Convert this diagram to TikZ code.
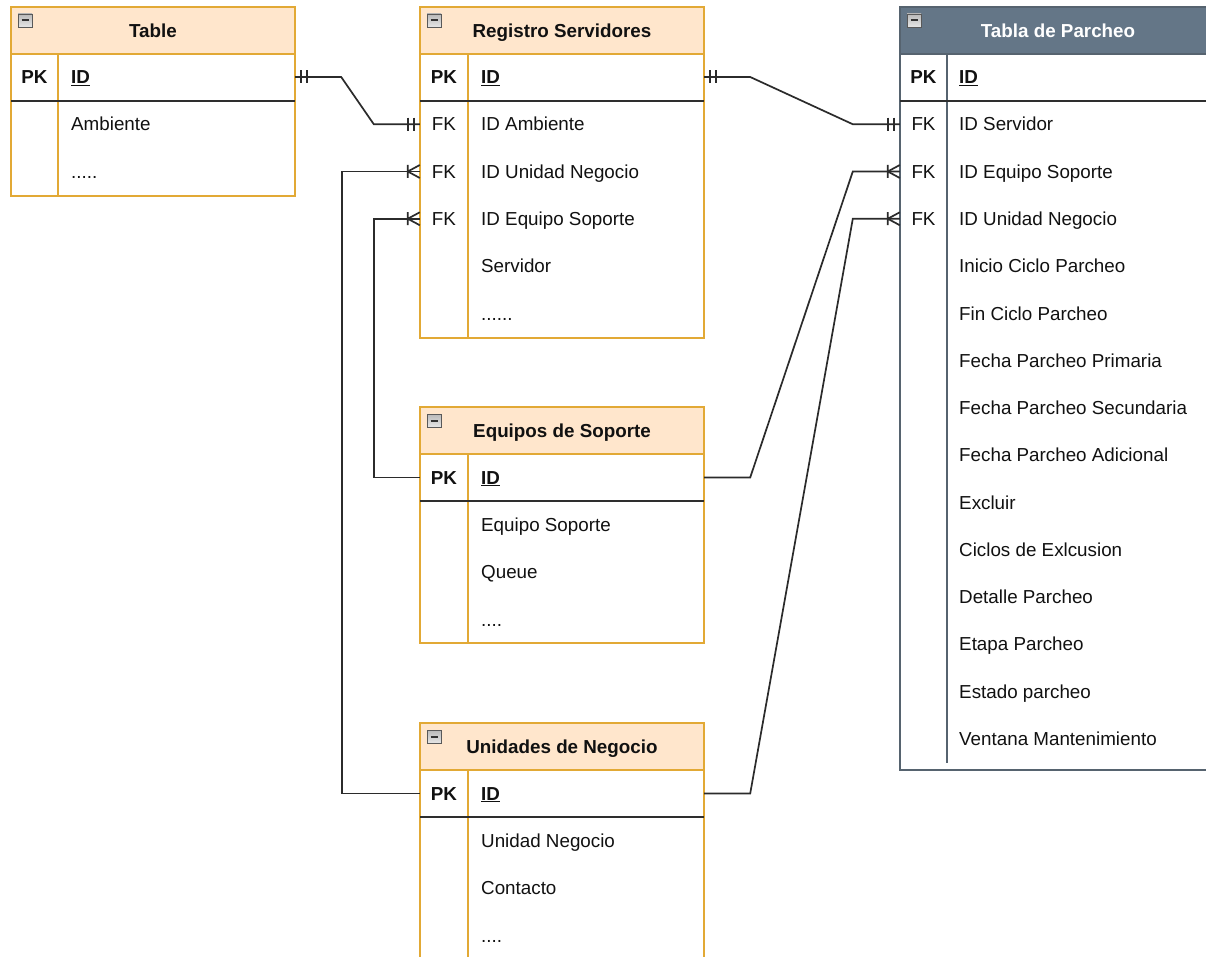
\documentclass[tikz,border=0pt]{standalone}
\usepackage{fontspec}
\setmainfont{Liberation Sans}
\usetikzlibrary{calc}

\definecolor{erline}{HTML}{E2A935}
\definecolor{erhead}{HTML}{FFE6CC}
\definecolor{slatehead}{HTML}{647687}
\definecolor{slateline}{HTML}{56636F}
\definecolor{relink}{HTML}{2B2B2B}
\definecolor{sepink}{HTML}{2E2E2E}
\definecolor{txtink}{HTML}{111111}

\tikzset{
  every node/.style={font=\fontsize{18.8}{22}\selectfont, inner sep=0pt,
                     text height=13.5pt, text depth=0pt, text=txtink},
  frame/.style={draw=erline, line width=1.6pt},
  slateframe/.style={draw=slateline, line width=1.6pt},
  sepline/.style={draw=sepink, line width=1.8pt},
  title/.style={font=\fontsize{18.8}{22}\selectfont\bfseries},
  keytxt/.style={font=\fontsize{18.8}{22}\selectfont\bfseries},
  fldtxt/.style={anchor=west},
  rowref/.style={minimum width=284pt, text height=0pt},
  rowrefwide/.style={minimum width=318pt, text height=0pt},
  rel/.style={draw=relink, line width=1.7pt},
  pics/fold/.style={code={
    \draw[draw=gray!70!black, top color=gray!55, bottom color=gray!20, line width=0.8pt] (0,0) rectangle (14,13);
    \draw[line width=2pt, draw=black!80] (3.5,6.5) -- (10.5,6.5);}},
  pics/mone/.style={code={
    \draw[rel] (-6,-6.5) -- (-6,6.5) (-12,-6.5) -- (-12,6.5);}},
  pics/crow/.style={code={
    \draw[rel] (-12,-6.5) -- (-12,6.5) (-12,0) -- (0,-6.5) (-12,0) -- (0,6.5);}},
}

\begin{document}
\begin{tikzpicture}[x=1pt,y=-1pt]
\clip (0,0) rectangle (1206,957);
\fill[white] (0,0) rectangle (1206,957);

% ---------- Table ----------
\draw[frame, fill=erhead] (11,7) rectangle (295,54);
\draw[frame] (11,54) rectangle (295,196);
\draw[frame] (58,54) -- (58,196);
\draw[sepline] (11,101) -- (295,101);
\pic at (18,14) {fold};
\node[title] (t-title) at (153,30.5) {Table};
\node[rowref] (t-id) at (153,77) {};
\node[keytxt] (t-pk) at (34.5,77) {PK};
\node[fldtxt, font=\fontsize{18.8}{22}\selectfont\bfseries] (t-id-t) at (71,77) {\underline{ID}};
\node[fldtxt] (t-amb-t) at (71,124.25) {Ambiente};
\node[fldtxt] (t-more-t) at (71,171.5) {.....};

% ---------- Registro Servidores ----------
\draw[frame, fill=erhead] (420,7) rectangle (704,54);
\draw[frame] (420,54) rectangle (704,338);
\draw[frame] (468,54) -- (468,338);
\draw[sepline] (420,101) -- (704,101);
\pic at (427,14) {fold};
\node[title] (rs-title) at (562,30.5) {Registro Servidores};
\node[rowref] (rs-id) at (562,77) {};
\node[rowref] (rs-amb) at (562,124.25) {};
\node[rowref] (rs-un) at (562,171.5) {};
\node[rowref] (rs-eq) at (562,218.75) {};
\node[keytxt] (rs-pk) at (444,77) {PK};
\node (rs-fk1) at (444,124.25) {FK};
\node (rs-fk2) at (444,171.5) {FK};
\node (rs-fk3) at (444,218.75) {FK};
\node[fldtxt, font=\fontsize{18.8}{22}\selectfont\bfseries] (rs-id-t) at (481,77) {\underline{ID}};
\node[fldtxt] (rs-amb-t) at (481,124.25) {ID Ambiente};
\node[fldtxt] (rs-un-t) at (481,171.5) {ID Unidad Negocio};
\node[fldtxt] (rs-eq-t) at (481,218.75) {ID Equipo Soporte};
\node[fldtxt] (rs-srv-t) at (481,266) {Servidor};
\node[fldtxt] (rs-more-t) at (481,313.25) {......};

% ---------- Equipos de Soporte ----------
\draw[frame, fill=erhead] (420,407) rectangle (704,454);
\draw[frame] (420,454) rectangle (704,643);
\draw[frame] (468,454) -- (468,643);
\draw[sepline] (420,501) -- (704,501);
\pic at (427,414) {fold};
\node[title] (eq-title) at (562,430.5) {Equipos de Soporte};
\node[rowref] (eq-id) at (562,477.5) {};
\node[keytxt] (eq-pk) at (444,477.5) {PK};
\node[fldtxt, font=\fontsize{18.8}{22}\selectfont\bfseries] (eq-id-t) at (481,477.5) {\underline{ID}};
\node[fldtxt] (eq-name-t) at (481,524.75) {Equipo Soporte};
\node[fldtxt] (eq-queue-t) at (481,572) {Queue};
\node[fldtxt] (eq-more-t) at (481,619.25) {....};

% ---------- Unidades de Negocio ----------
\draw[frame, fill=erhead] (420,723) rectangle (704,770);
\draw[frame] (420,770) rectangle (704,980);
\draw[frame] (468,770) -- (468,980);
\draw[sepline] (420,817) -- (704,817);
\pic at (427,730) {fold};
\node[title] (un-title) at (562,746.5) {Unidades de Negocio};
\node[rowref] (un-id) at (562,793.5) {};
\node[keytxt] (un-pk) at (444,793.5) {PK};
\node[fldtxt, font=\fontsize{18.8}{22}\selectfont\bfseries] (un-id-t) at (481,793.5) {\underline{ID}};
\node[fldtxt] (un-name-t) at (481,840.75) {Unidad Negocio};
\node[fldtxt] (un-cont-t) at (481,888) {Contacto};
\node[fldtxt] (un-more-t) at (481,935.25) {....};

% ---------- Tabla de Parcheo ----------
\draw[slateframe, fill=slatehead] (900,7) rectangle (1218,54);
\draw[slateframe] (900,54) rectangle (1218,770);
\draw[slateframe] (947,54) -- (947,763);
\draw[sepline] (900,101) -- (1218,101);
\pic at (907,14) {fold};
\node[title, text=white] (tp-title) at (1058,30.5) {Tabla de Parcheo};
\node[keytxt] (tp-pk) at (923.5,77) {PK};
\node[fldtxt, font=\fontsize{18.8}{22}\selectfont\bfseries] (tp-id-t) at (959,77) {\underline{ID}};
\foreach \t [count=\i] in {ID Servidor, ID Equipo Soporte, ID Unidad Negocio,
    Inicio Ciclo Parcheo, Fin Ciclo Parcheo, Fecha Parcheo Primaria,
    Fecha Parcheo Secundaria, Fecha Parcheo Adicional, Excluir,
    Ciclos de Exlcusion, Detalle Parcheo, Etapa Parcheo, Estado parcheo,
    Ventana Mantenimiento}{
  \node[rowrefwide] (tp-\i) at (1059,77+47.25*\i) {};
  \node[fldtxt] (tp-\i-t) at (959,77+47.25*\i) {\t};
}
\foreach \i in {1,2,3}{
  \node (tp-fk\i) at (923.5,77+47.25*\i) {FK};
}

% ---------- Relationships ----------
\draw[rel] (t-id.east) -- ++(46,0) -- ($(rs-amb.west)+(-46,0)$) -- (rs-amb.west);
\pic[xscale=-1] at (t-id.east) {mone};
\pic at (rs-amb.west) {mone};

\draw[rel] (rs-id.east) -- ++(46,0) -- ($(tp-1.west)+(-47,0)$) -- (tp-1.west);
\pic[xscale=-1] at (rs-id.east) {mone};
\pic at (tp-1.west) {mone};

\draw[rel] (rs-un.west) -- ++(-78,0) |- (un-id.west);
\pic at (rs-un.west) {crow};

\draw[rel] (rs-eq.west) -- ++(-46,0) |- (eq-id.west);
\pic at (rs-eq.west) {crow};

\draw[rel] (eq-id.east) -- ++(46,0) -- ($(tp-2.west)+(-47,0)$) -- (tp-2.west);
\pic at (tp-2.west) {crow};

\draw[rel] (un-id.east) -- ++(46,0) -- ($(tp-3.west)+(-47,0)$) -- (tp-3.west);
\pic at (tp-3.west) {crow};
\end{tikzpicture}
\end{document}
